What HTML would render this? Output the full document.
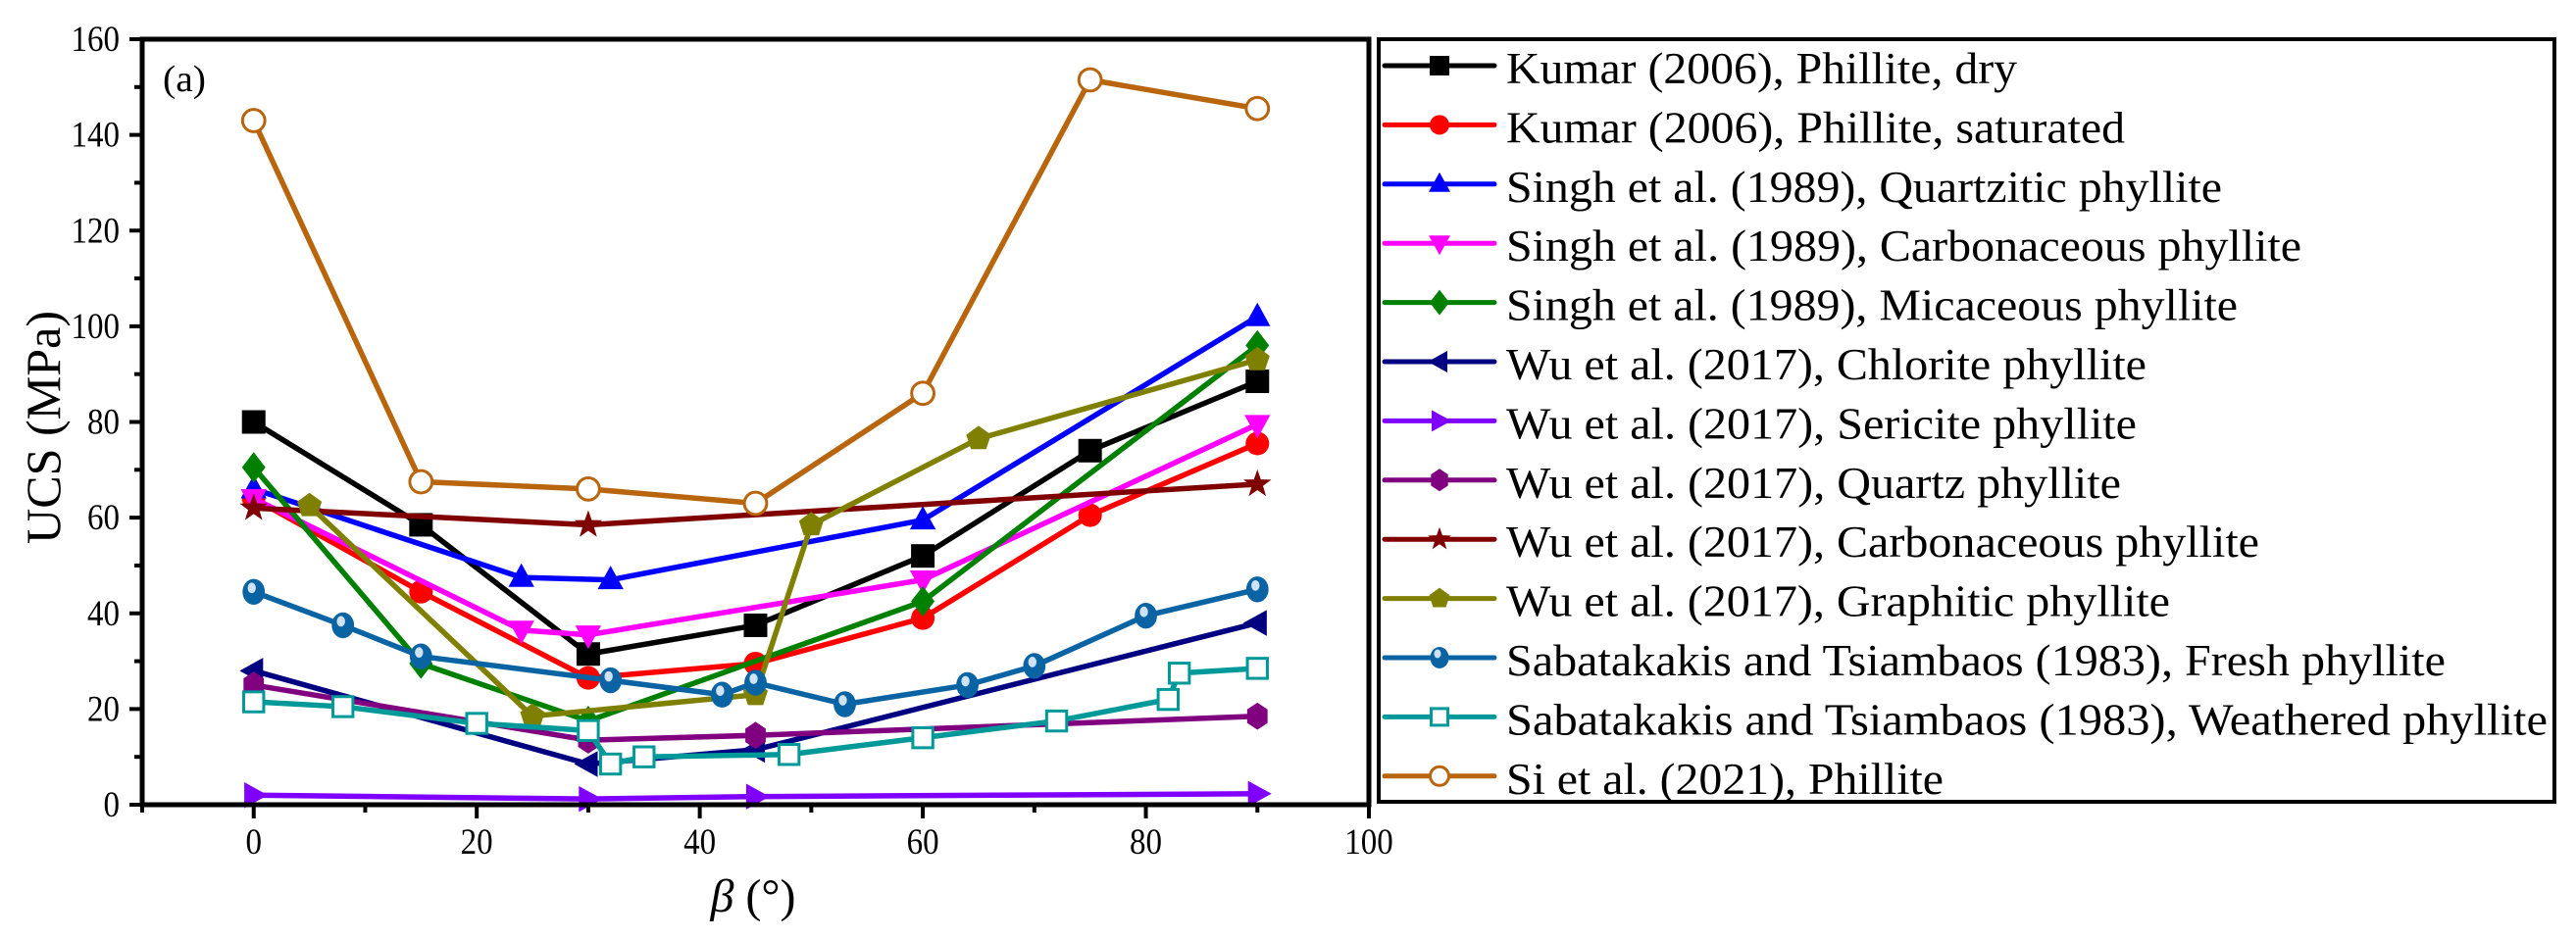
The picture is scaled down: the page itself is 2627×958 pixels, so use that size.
<!DOCTYPE html>
<html><head><meta charset="utf-8"><style>
html,body{margin:0;padding:0;background:#fff;}
svg{display:block;font-family:"Liberation Serif",serif;}
</style></head><body>
<svg id="chart" width="2627" height="958" viewBox="0 0 2627 958" xmlns="http://www.w3.org/2000/svg">
<rect width="2627" height="958" fill="#fff"/>
<g id="series"></g>
<g id="axes"></g>
<g id="legend"></g>
</svg>
<script>
const xTicks = [0, 20, 40, 60, 80, 100];
const yTicks = [0, 20, 40, 60, 80, 100, 120, 140, 160];
const seriesNames = [
 "Kumar (2006), Phillite, dry",
 "Kumar (2006), Phillite, saturated",
 "Singh et al. (1989), Quartzitic phyllite",
 "Singh et al. (1989), Carbonaceous phyllite",
 "Singh et al. (1989), Micaceous phyllite",
 "Wu et al. (2017), Chlorite phyllite",
 "Wu et al. (2017), Sericite phyllite",
 "Wu et al. (2017), Quartz phyllite",
 "Wu et al. (2017), Carbonaceous phyllite",
 "Wu et al. (2017), Graphitic phyllite",
 "Sabatakakis and Tsiambaos (1983), Fresh phyllite",
 "Sabatakakis and Tsiambaos (1983), Weathered phyllite",
 "Si et al. (2021), Phillite"
];
const kumarDryX = [0,15,30,45,60,75,90];
const kumarDryY = [80,58.5,31.5,37.5,52,74,88.5];
const kumarSatX = [0,15,30,45,60,75,90];
const kumarSatY = [64,44.5,26.5,29.5,39,60.5,75.5];
const singhQX = [0,24,32,60,90];
const singhQY = [66,47.5,47,59.5,102];
const singhCX = [0,24,30,60,90];
const singhCY = [64,36.5,35.5,47,79.5];
const singhMX = [0,15,30,60,90];
const singhMY = [70.5,29.5,17.5,42.5,96];
const wuChlX = [0,30,45,90];
const wuChlY = [28,8.5,11.5,38];
const wuSerX = [0,30,45,90];
const wuSerY = [2,1.2,1.7,2.3];
const wuQX = [0,30,45,90];
const wuQY = [25,13.5,14.5,18.5];
const wuCarbX = [0,30,90];
const wuCarbY = [62,58.5,67];
const wuGrX = [5,25,45,50,65,90];
const wuGrY = [62.5,18.5,23,58.5,76.5,93];
const freshX = [0,8,15,32,42,45,53,64,70,80,90];
const freshY = [44.5,37.5,31,26,23,25.5,21,25,29,39.5,45];
const weathX = [0,8,20,30,32,35,48,60,72,82,83,90];
const weathY = [21.5,20.5,17,15.5,8.5,10,10.5,14,17.5,22,27.5,28.5];
const siX = [0,15,30,45,60,75,90];
const siY = [143,67.5,66,63,86,151.5,145.5];

const NS="http://www.w3.org/2000/svg";
const X0=145, X1=1396, Y0=821, Y1=40, XMIN=-10, XMAX=100, YMIN=0, YMAX=160;
const sx=v=>X0+(v-XMIN)/(XMAX-XMIN)*(X1-X0);
const sy=v=>Y0-(v-YMIN)/(YMAX-YMIN)*(Y0-Y1);
function mk(tag,attrs,parent){const e=document.createElementNS(NS,tag);for(const k in attrs)e.setAttribute(k,attrs[k]);parent.appendChild(e);return e;}

const styles=[
 {c:"#000000",m:"square"},{c:"#ff0000",m:"circle"},{c:"#0000ff",m:"up"},{c:"#ff00ff",m:"down"},
 {c:"#008000",m:"diamond"},{c:"#000080",m:"left"},{c:"#8000ff",m:"right"},{c:"#800080",m:"hex"},
 {c:"#800000",m:"star"},{c:"#808000",m:"pent"},{c:"#0a64a4",m:"ball"},{c:"#009999",m:"osquare"},{c:"#b8650d",m:"ocircle"}];
const xs=[kumarDryX,kumarSatX,singhQX,singhCX,singhMX,wuChlX,wuSerX,wuQX,wuCarbX,wuGrX,freshX,weathX,siX];
const ys=[kumarDryY,kumarSatY,singhQY,singhCY,singhMY,wuChlY,wuSerY,wuQY,wuCarbY,wuGrY,freshY,weathY,siY];

function poly(pts){return pts.map(p=>p.join(",")).join(" ");}
function marker(g,type,x,y,r,c){
 let e;
 switch(type){
 case "square": e=mk("rect",{x:x-r,y:y-r,width:2*r,height:2*r,fill:c},g);break;
 case "osquare": e=mk("rect",{x:x-r*0.85,y:y-r*0.85,width:1.7*r,height:1.7*r,fill:"#fff",stroke:c,"stroke-width":3},g);break;
 case "circle": e=mk("circle",{cx:x,cy:y,r:r,fill:c},g);break;
 case "ocircle": e=mk("circle",{cx:x,cy:y,r:r*0.95,fill:"#fff",stroke:c,"stroke-width":3},g);break;
 case "ball": e=mk("ellipse",{cx:x,cy:y,rx:r*0.95,ry:r*1.1,fill:c},g);
   mk("ellipse",{cx:x-2,cy:y-4,rx:r*0.35,ry:r*0.45,fill:"#cfe3f5"},g);break;
 case "up": e=mk("polygon",{points:poly([[x,y-r*1.2],[x+r*1.1,y+r*0.8],[x-r*1.1,y+r*0.8]]),fill:c},g);break;
 case "down": e=mk("polygon",{points:poly([[x,y+r*1.2],[x+r*1.1,y-r*0.8],[x-r*1.1,y-r*0.8]]),fill:c},g);break;
 case "left": e=mk("polygon",{points:poly([[x-r*1.2,y],[x+r*0.8,y-r*1.1],[x+r*0.8,y+r*1.1]]),fill:c},g);break;
 case "right": e=mk("polygon",{points:poly([[x+r*1.2,y],[x-r*0.8,y-r*1.1],[x-r*0.8,y+r*1.1]]),fill:c},g);break;
 case "diamond": e=mk("polygon",{points:poly([[x,y-r*1.3],[x+r,y],[x,y+r*1.3],[x-r,y]]),fill:c},g);break;
 case "hex": {const p=[];for(let i=0;i<6;i++){const a=Math.PI/2+i*Math.PI/3;p.push([x+r*Math.cos(a),y-r*1.15*Math.sin(a)]);}e=mk("polygon",{points:poly(p),fill:c},g);break;}
 case "pent": {const p=[];for(let i=0;i<5;i++){const a=Math.PI/2+i*2*Math.PI/5;p.push([x+r*1.1*Math.cos(a),y-r*1.1*Math.sin(a)]);}e=mk("polygon",{points:poly(p),fill:c},g);break;}
 case "star": {const p=[];for(let i=0;i<10;i++){const a=Math.PI/2+i*Math.PI/5;const rr=i%2?r*0.5:r*1.25;p.push([x+rr*Math.cos(a),y-rr*Math.sin(a)]);}e=mk("polygon",{points:poly(p),fill:c},g);break;}
 }
 return e;
}

const sg=document.getElementById("series");
for(let s=0;s<xs.length;s++){
 const g=mk("g",{},sg);
 
 
 const pts=xs[s].map((v,i)=>[sx(v),sy(ys[s][i])]);
 const pl=mk("polyline",{points:poly(pts),fill:"none",stroke:styles[s].c,"stroke-width":5.5,"stroke-linejoin":"round"},g);
 
 
 pts.forEach(p=>{const m=marker(g,styles[s].m,p[0],p[1],12,styles[s].c);
   
   });
}

// axes
const ag=document.getElementById("axes");
const frame=mk("rect",{x:X0,y:Y1,width:X1-X0,height:Y0-Y1,fill:"none",stroke:"#000","stroke-width":5},ag);


for(let v=YMIN;v<=YMAX;v+=10){
 const major=v%20===0;
 mk("line",{x1:X0,x2:X0-(major?13:8),y1:sy(v),y2:sy(v),stroke:"#000","stroke-width":4},ag);
}
yTicks.forEach(v=>{
 const t=mk("text",{x:X0-23,y:sy(v)+12,"font-size":37,"text-anchor":"end",textLength:String(v).length*16.5,lengthAdjust:"spacingAndGlyphs"},ag);
 t.textContent=v;
 
 
});
for(let v=XMIN;v<=XMAX;v+=10){
 const major=v%20===0;
 mk("line",{x1:sx(v),x2:sx(v),y1:Y0,y2:Y0+(major?14:8),stroke:"#000","stroke-width":4},ag);
}
xTicks.forEach(v=>{
 const t=mk("text",{x:sx(v),y:Y0+50,"font-size":37,"text-anchor":"middle",textLength:String(v).length*16.5,lengthAdjust:"spacingAndGlyphs"},ag);
 t.textContent=v;
 
 
});
const yt=mk("text",{x:0,y:0,"font-size":50,"text-anchor":"middle",transform:"translate(61,436) rotate(-90)",textLength:238,lengthAdjust:"spacingAndGlyphs"},ag);
yt.textContent="UCS (MPa)";


const xt=mk("text",{x:768,y:930,"font-size":48,"text-anchor":"middle"},ag);
xt.innerHTML='<tspan font-style="italic">β</tspan> (°)';


const pa=mk("text",{x:166,y:93,"font-size":38,textLength:44,lengthAdjust:"spacingAndGlyphs"},ag);
pa.textContent="(a)";



// legend
const lg=document.getElementById("legend");


mk("rect",{x:1406,y:40,width:1199,height:778,fill:"#fff",stroke:"#000","stroke-width":4},lg);
const textW=[521,631,730,811,746,653,643,627,768,677,958,1062,446];
seriesNames.forEach((n,i)=>{
 const cy=67+i*60.4;
 const g=mk("g",{},lg);
 
 
 mk("line",{x1:1412,x2:1524,y1:cy,y2:cy,stroke:styles[i].c,"stroke-width":5,"stroke-linecap":"round"},g);
 marker(g,styles[i].m,1468,cy,10,styles[i].c);
 const t=mk("text",{x:1536,y:cy+18,"font-size":45,textLength:textW[i],lengthAdjust:"spacingAndGlyphs"},g);
 t.textContent=n;
});
</script>
</body></html>
